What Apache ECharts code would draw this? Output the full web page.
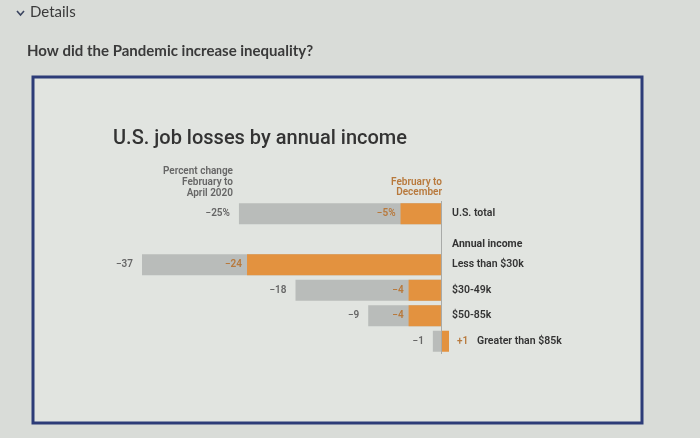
<!DOCTYPE html>
<html>
<head>
<meta charset="utf-8">
<script src="https://cdn.jsdelivr.net/npm/echarts@6/dist/echarts.min.js"></script>
<style>
html,body{margin:0;padding:0;background:#d9dcd8;}
#chart{width:700px;height:438px;}
</style>
</head>
<body>
<div id="chart"></div>
<script>
var categories = ['U.S. total', 'Annual income', 'Less than $30k', '$30-49k', '$50-85k', 'Greater than $85k'];
var febToApril = [-25, null, -37, -18, -9, -1];
var febToDecember = [-5, null, -24, -4, -4, 1];
var aprilLabels = ['−25%', '', '−37', '−18', '−9', '−1'];
var decemberLabels = ['−5%', '', '−24', '−4', '−4', '+1'];

var GRAY = '#b9bcba';
var ORANGE = '#e3923f';
var ORANGE_TXT = '#b8793c';

var chart = echarts.init(document.getElementById('chart'));

function grayData() {
  return febToApril.map(function (v, i) {
    return { value: v, label: { formatter: aprilLabels[i] } };
  });
}
function orangeData() {
  return febToDecember.map(function (v, i) {
    var d = { value: v, label: { formatter: decemberLabels[i] } };
    if (v !== null && v > 0) { d.label.position = 'right'; d.label.distance = 8; }
    return d;
  });
}

var option = {
  backgroundColor: '#d9dcd8',
  animation: false,
  graphic: [
    { type: 'rect', z: -10, shape: { x: 33, y: 77, width: 609, height: 346 },
      style: { fill: '#e1e4e0', stroke: '#2d3c78', lineWidth: 3 } },
    { type: 'polyline', shape: { points: [[17, 11], [20.5, 15], [24, 11]] },
      style: { stroke: '#3b4560', lineWidth: 1.6, fill: null } },
    { type: 'text', left: 30, top: 5,
      style: { text: 'Details', font: '15px Lato', fill: '#3a3a3a' } },
    { type: 'text', left: 27, top: 44,
      style: { text: 'How did the Pandemic increase inequality?', font: 'bold 15px Lato', fill: '#3a3a3a' } },
    { type: 'text', left: 113, top: 129,
      style: { text: 'U.S. job losses by annual income', font: '500 20px Roboto', fill: '#333' } },
    { type: 'text', x: 233, y: 166,
      style: { text: 'Percent change\nFebruary to\nApril 2020', font: '600 10px Roboto', fill: '#666', align: 'right', lineHeight: 11 } },
    { type: 'text', x: 442, y: 177,
      style: { text: 'February to\nDecember', font: '600 10px Roboto', fill: ORANGE_TXT, align: 'right', lineHeight: 10 } }
  ],
  grid: { left: 142, right: 251, top: 201, bottom: 84, containLabel: false },
  xAxis: {
    type: 'value', min: -37, max: 1, show: false
  },
  yAxis: {
    type: 'category', data: categories, inverse: true, position: 'right',
    axisLine: { show: false }, axisTick: { show: false },
    axisLabel: {
      margin: 3, align: 'left', fontSize: 10.5, fontWeight: 600, color: '#333', fontFamily: 'Roboto',
      formatter: function (v, i) {
        if (i === 1) return '{b|' + v + '}';
        if (i === 5) return '{p|' + v + '}';
        return v;
      },
      rich: {
        b: { fontSize: 10.5, fontWeight: 'bold', color: '#333', fontFamily: 'Roboto', padding: [10, 0, 0, 0] },
        p: { fontSize: 10.5, fontWeight: 600, color: '#333', fontFamily: 'Roboto', padding: [0, 0, 0, 25] }
      }
    }
  },
  series: [
    {
      name: 'February to April 2020', type: 'bar', data: grayData(), barWidth: 21, barGap: '-100%',
      itemStyle: { color: GRAY }, z: 2,
      label: { show: true, position: 'left', distance: 9, fontSize: 10, fontWeight: 600, color: '#666', fontFamily: 'Roboto' },
      markLine: {
        silent: true, symbol: 'none', label: { show: false },
        lineStyle: { color: '#a8aaa8', width: 1, type: 'solid' },
        data: [{ xAxis: 0 }]
      }
    },
    {
      name: 'February to December', type: 'bar', data: orangeData(), barWidth: 21, barGap: '-100%',
      itemStyle: { color: ORANGE }, z: 3,
      label: { show: true, position: 'left', distance: 5, fontSize: 10, fontWeight: 600, color: ORANGE_TXT, fontFamily: 'Roboto' }
    }
  ]
};
chart.setOption(option);
</script>
</body>
</html>
